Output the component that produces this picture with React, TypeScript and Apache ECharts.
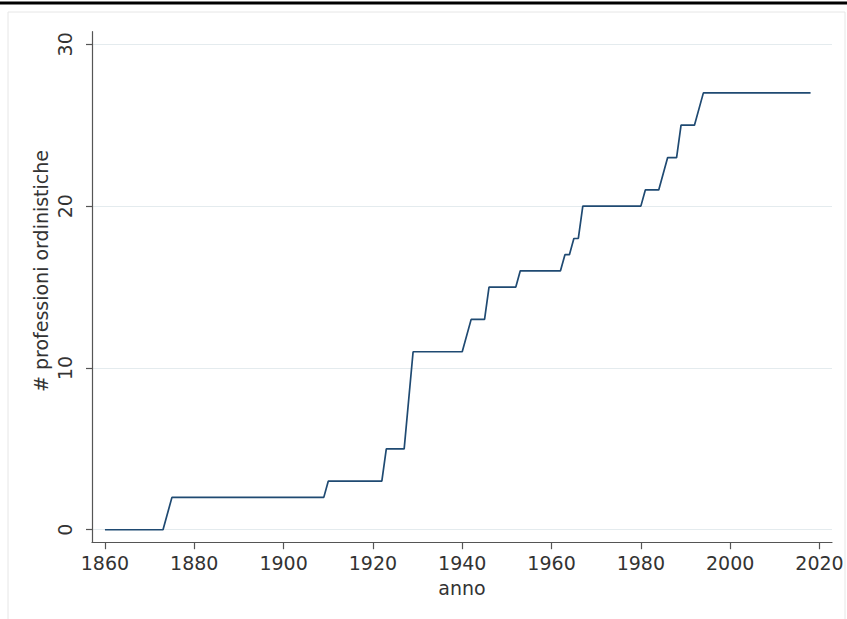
import React, { useEffect, useRef } from "react";
import * as echarts from "echarts";

const years = [1860, 1873, 1875, 1909, 1910, 1922, 1923, 1927, 1929, 1940, 1942, 1945, 1946, 1952, 1953, 1962, 1963, 1964, 1965, 1966, 1967, 1980, 1981, 1984, 1986, 1988, 1989, 1992, 1994, 2018];
const values = [0, 0, 2, 2, 3, 3, 5, 5, 11, 11, 13, 13, 15, 15, 16, 16, 17, 17, 18, 18, 20, 20, 21, 21, 23, 23, 25, 25, 27, 27];
const xTicks = [1860, 1880, 1900, 1920, 1940, 1960, 1980, 2000, 2020];
const yTicks = [0, 10, 20, 30];
const xTitle = "anno";
const yTitle = "# professioni ordinistiche";

export default function App() {
  const ref = useRef<HTMLDivElement>(null);
  useEffect(() => {
    document.body.style.margin = "0";
    const chart = echarts.init(ref.current!, null, { renderer: "svg" });
    const font = "DejaVu Sans";
    const txt = "#333333";
    const axisCol = "#555555";
    chart.setOption({
      animation: false,
      backgroundColor: "#ffffff",
      grid: { left: 92, top: 31.7, width: 740, height: 510.5, containLabel: false },
      xAxis: {
        type: "value",
        min: 1857.1,
        max: 2022.8,
        axisLine: { show: true, onZero: false, lineStyle: { color: axisCol, width: 1.2 } },
        axisTick: { show: true, customValues: xTicks, length: 7, lineStyle: { color: axisCol, width: 1.2 } },
        axisLabel: { customValues: xTicks, color: txt, fontFamily: font, fontSize: 19, margin: 11, formatter: (v: number) => String(v) },
        splitLine: { show: false },
      },
      yAxis: {
        type: "value",
        min: -0.77,
        max: 30.78,
        axisLine: { show: true, onZero: false, lineStyle: { color: axisCol, width: 1.2 } },
        axisTick: { show: true, customValues: yTicks, length: 6, lineStyle: { color: axisCol, width: 1.2 } },
        axisLabel: { customValues: yTicks, color: txt, fontFamily: font, fontSize: 19, rotate: 90, margin: 18, formatter: (v: number) => String(v) },
        splitLine: { show: false },
      },
      series: [
        {
          type: "line",
          data: years.map((y, i) => [y, values[i]]),
          showSymbol: false,
          symbol: "none",
          lineStyle: { color: "#1f4a72", width: 1.7 },
          markLine: {
            silent: true,
            symbol: ["none", "none"],
            label: { show: false },
            lineStyle: { color: "#e4ebee", width: 1.2, type: "solid" },
            data: yTicks.map((v) => ({ yAxis: v })),
            z: 0,
          },
          z: 3,
        },
      ],
      graphic: [
        {
          type: "rect",
          shape: { x: 8, y: 12, width: 837, height: 620 },
          style: { fill: "none", stroke: "#e6e6e6", lineWidth: 1 },
          z: -1,
        },
        {
          type: "line",
          shape: { x1: 0, y1: 3, x2: 847, y2: 3 },
          style: { stroke: "#000000", lineWidth: 3 },
        },
        {
          type: "text",
          x: 462,
          y: 588,
          style: { text: xTitle, fill: txt, font: `19px ${font}`, textAlign: "center", textVerticalAlign: "middle" },
        },
        {
          type: "text",
          x: 41,
          y: 271,
          rotation: Math.PI / 2,
          style: { text: yTitle, fill: txt, font: `19px ${font}`, textAlign: "center", textVerticalAlign: "middle" },
        },
      ],
    });
    return () => chart.dispose();
  }, []);
  return <div ref={ref} style={{ width: 847, height: 619 }} />;
}
